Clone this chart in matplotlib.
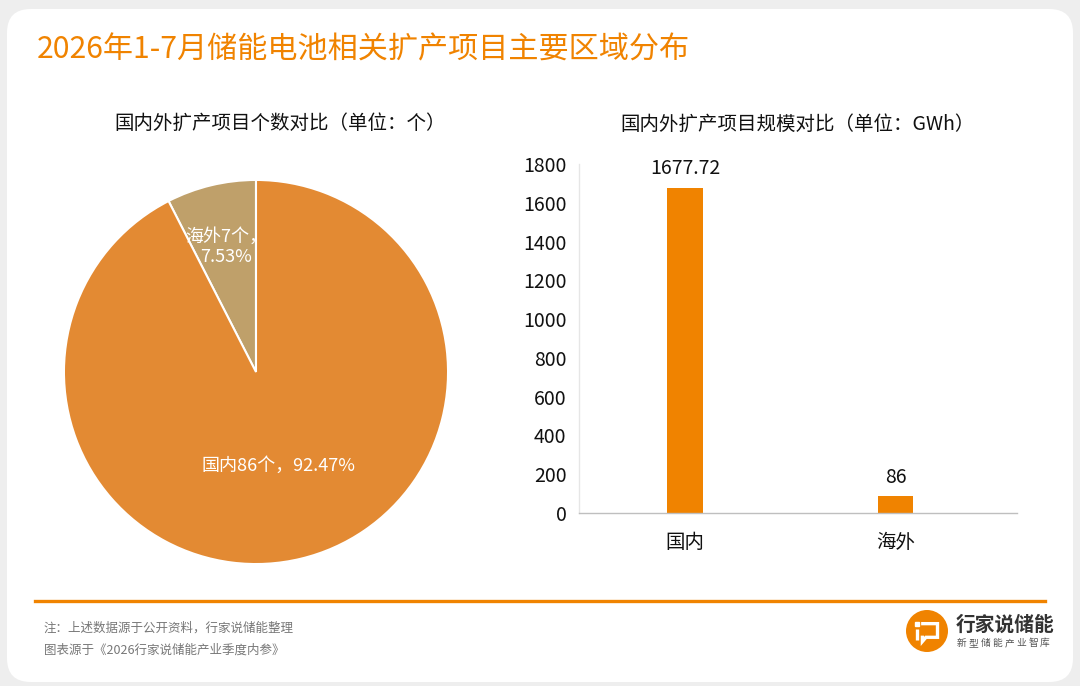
import matplotlib
matplotlib.use("Agg")
import matplotlib.pyplot as plt
from matplotlib.patches import FancyBboxPatch, Circle, Rectangle
from matplotlib.lines import Line2D
import numpy as np

plt.rcParams['font.family'] = ['Noto Sans CJK SC', 'DejaVu Sans']

# ---- data ----
title = "2026年1-7月储能电池相关扩产项目主要区域分布"
pie_title = "国内外扩产项目个数对比（单位：个）"
bar_title = "国内外扩产项目规模对比（单位：GWh）"
pie_labels = ["海外", "国内"]
pie_counts = [7, 86]
pie_pcts = [7.53, 92.47]
bar_categories = ["国内", "海外"]
bar_values = [1677.72, 86]
bar_value_labels = ["1677.72", "86"]
y_ticks = [0, 200, 400, 600, 800, 1000, 1200, 1400, 1600, 1800]
note1 = "注：上述数据源于公开资料，行家说储能整理"
note2 = "图表源于《2026行家说储能产业季度内参》"
brand = "行家说储能"
brand_sub = "新型储能产业智库"

ORANGE = "#F08300"
PIE_COLORS = ["#BFA06A", "#E38A33"]

W, H = 1080, 686
fig = plt.figure(figsize=(W / 100, H / 100), dpi=100)
fig.patch.set_facecolor("#EEEEEE")

def fx(px):
    return px / W

def fy(py):
    return 1 - py / H

# white rounded card
card = FancyBboxPatch((fx(7), fy(682)), fx(1073) - fx(7), fy(9) - fy(682),
                      boxstyle="round,pad=0,rounding_size=0.022",
                      transform=fig.transFigure, facecolor="white",
                      edgecolor="none", zorder=-10, mutation_aspect=W / H)
fig.patches.append(card)

# main title
fig.text(fx(37), fy(50), title, color=ORANGE, fontsize=21.7,
         ha="left", va="center")

# subtitles
fig.text(fx(280), fy(123), pie_title, color="#111111", fontsize=14,
         ha="center", va="center")
fig.text(fx(798), fy(124), bar_title, color="#111111", fontsize=14,
         ha="center", va="center")

# ---- pie ----
cx, cy, r = 256, 372, 193
axp = fig.add_axes([fx(cx - r), fy(cy + r), fx(2 * r), (2 * r) / H])
wedges, _ = axp.pie(pie_counts, colors=PIE_COLORS, startangle=90,
                    counterclock=True, radius=1,
                    wedgeprops=dict(edgecolor="white", linewidth=1.5))
axp.set_xlim(-1.005, 1.005)
axp.set_ylim(-1.005, 1.005)
axp.set_aspect("equal")
axp.axis("off")
label_texts = [f"{pie_labels[0]}{pie_counts[0]}个，\n{pie_pcts[0]:.2f}%",
               f"{pie_labels[1]}{pie_counts[1]}个，{pie_pcts[1]:.2f}%"]
dists = [0.67, 0.50]
for w, t, d in zip(wedges, label_texts, dists):
    ang = np.deg2rad((w.theta1 + w.theta2) / 2)
    axp.text(d * np.cos(ang), d * np.sin(ang), t, color="white",
             fontsize=13, ha="center", va="center", linespacing=1.15)

# ---- bar ----
axb = fig.add_axes([fx(579), fy(513), fx(1017) - fx(579), (513 - 164) / H])
axb.set_facecolor("none")
x = np.arange(len(bar_categories))
bars = axb.bar(x, bar_values, width=0.17, color=ORANGE, zorder=2)
axb.set_xlim(-0.503, 1.577)
axb.set_ylim(0, 1800)
axb.set_yticks(y_ticks)
axb.set_xticks(x)
axb.set_xticklabels(bar_categories)
axb.tick_params(axis="both", length=0, labelsize=14, colors="#111111")
axb.tick_params(axis="y", pad=9)
axb.tick_params(axis="x", pad=14)
for s in ["top", "right"]:
    axb.spines[s].set_visible(False)
axb.spines["left"].set_color("#E6E6E6")
axb.spines["bottom"].set_color("#BFBFBF")
axb.spines["left"].set_linewidth(1)
axb.spines["bottom"].set_linewidth(1)
for b, lab in zip(bars, bar_value_labels):
    axb.annotate(lab, (b.get_x() + b.get_width() / 2, b.get_height()),
                 xytext=(0, 6), textcoords="offset points",
                 ha="center", va="bottom", fontsize=14, color="#111111")

# ---- footer ----
fig.add_artist(Line2D([fx(35), fx(1045)], [fy(601), fy(601)],
                      color=ORANGE, linewidth=2.4, transform=fig.transFigure))
fig.text(fx(44), fy(628), note1, color="#777777", fontsize=9,
         ha="left", va="center")
fig.text(fx(44), fy(650), note2, color="#777777", fontsize=9,
         ha="left", va="center")

# logo
lx, ly, lr = 927, 631, 21
axl = fig.add_axes([fx(lx - lr), fy(ly + lr), fx(2 * lr), 2 * lr / H])
axl.set_xlim(-1, 1)
axl.set_ylim(-1, 1)
axl.set_aspect("equal")
axl.axis("off")
axl.add_patch(Circle((0, 0), 1, facecolor=ORANGE, edgecolor="none"))
axl.add_patch(Rectangle((-0.58, 0.22), 0.2, 0.2, color="white"))
axl.plot([-0.48, -0.48], [-0.45, 0.08], color="white", lw=2.4,
         solid_capstyle="butt")
axl.plot([-0.2, 0.5, 0.5, -0.05, -0.22, -0.22],
         [0.35, 0.35, -0.3, -0.3, -0.5, -0.3],
         color="white", lw=2.4, solid_joinstyle="miter")

fig.text(fx(956), fy(625), brand, color="#333333", fontsize=14.2,
         ha="left", va="center", fontweight="bold")
n = len(brand_sub)
x0, x1 = 962, 1045
for i, ch in enumerate(brand_sub):
    fig.text(fx(x0 + (x1 - x0) * i / (n - 1)), fy(643), ch, color="#555555",
             fontsize=7, ha="center", va="center")

fig.savefig("out.png", dpi=100, facecolor=fig.get_facecolor())
